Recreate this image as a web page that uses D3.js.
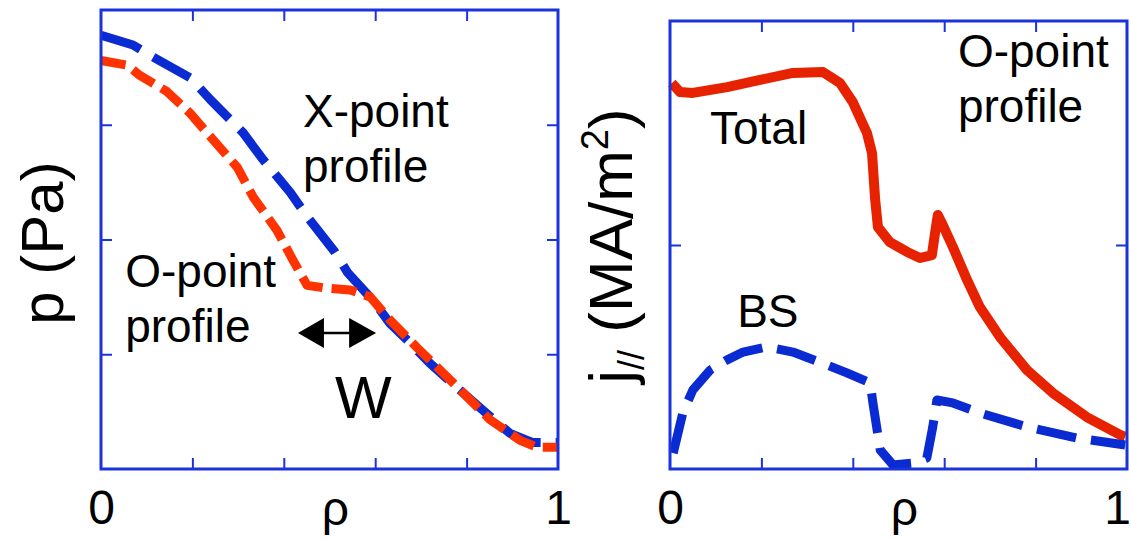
<!DOCTYPE html>
<html>
<head>
<meta charset="utf-8">
<script src="https://cdn.jsdelivr.net/npm/d3@7"></script>
<style>
  body { margin: 0; background: #fff; }
  text { font-family: "Liberation Sans", Arial, Helvetica, sans-serif; fill: #000; }
</style>
</head>
<body>
<div id="chart"></div>
<script>
// ---- data ----
// left panel: pressure profiles (arb. units, ticks at 1,2,3)
const rhoX = [0, 0.07, 0.114, 0.195, 0.239, 0.311, 0.352, 0.414, 0.451, 0.512, 0.54, 0.595, 0.632, 0.676, 0.72, 0.779, 0.836, 0.895, 0.945, 1.0];
const pX   = [3.78, 3.695, 3.59, 3.41, 3.22, 2.93, 2.71, 2.41, 2.2, 1.89, 1.71, 1.47, 1.27, 1.1, 0.92, 0.71, 0.51, 0.31, 0.23, 0.23];
const rhoO = [0, 0.057, 0.085, 0.144, 0.195, 0.245, 0.298, 0.333, 0.385, 0.42, 0.451, 0.486, 0.545, 0.589, 0.632, 0.691, 0.735, 0.801, 0.851, 0.917, 0.954, 1.0];
const pO   = [3.56, 3.52, 3.43, 3.29, 3.1, 2.87, 2.63, 2.37, 2.08, 1.82, 1.6, 1.58, 1.56, 1.5, 1.3, 1.06, 0.89, 0.63, 0.43, 0.25, 0.19, 0.19];

// right panel: parallel current density, O-point profile (MA/m^2)
const rhoTot = [0.004, 0.022, 0.05, 0.125, 0.197, 0.269, 0.335, 0.372, 0.4, 0.431, 0.442, 0.449, 0.455, 0.481, 0.519, 0.547, 0.573, 0.58, 0.586, 0.597, 0.619, 0.65, 0.678, 0.722, 0.781, 0.838, 0.912, 0.985, 0.996];
const jTot   = [1.723, 1.683, 1.679, 1.705, 1.737, 1.768, 1.772, 1.723, 1.638, 1.5, 1.411, 1.201, 1.08, 1.013, 0.969, 0.942, 0.955, 1.054, 1.134, 1.089, 0.991, 0.844, 0.723, 0.589, 0.442, 0.339, 0.232, 0.152, 0.143];
const rhoBS = [0.007, 0.028, 0.05, 0.088, 0.125, 0.16, 0.212, 0.269, 0.344, 0.387, 0.438, 0.444, 0.46, 0.488, 0.532, 0.562, 0.575, 0.584, 0.619, 0.678, 0.781, 0.891, 0.996];
const jBS   = [0.071, 0.25, 0.353, 0.442, 0.487, 0.522, 0.545, 0.522, 0.464, 0.429, 0.384, 0.295, 0.085, 0.018, 0.027, 0.049, 0.188, 0.308, 0.295, 0.25, 0.188, 0.138, 0.107];

const xTicks = [0.2, 0.4, 0.6, 0.8];
const xLabels = [0, 1];
const pTicks = [1, 2, 3];
const jTicks = [1];

//size
const width = 1131;
const height = 541;
const frameColor = "#1a33dd";
const blue = "#0a2ad2";

const svg = d3.select("#chart")
  .append("svg")
  .attr("width", width)
  .attr("height", height);

function panel(opt) {
  const x = d3.scaleLinear().domain([0, 1]).range([opt.left, opt.right]);
  const y = d3.scaleLinear().domain(opt.yDomain).range([opt.bottom, opt.top]);
  const g = svg.append("g");

  // inward ticks on all four sides
  const tick = 11;
  g.append("g").attr("transform", `translate(0,${opt.bottom})`)
    .call(d3.axisBottom(x).tickValues(xTicks).tickSize(-tick).tickFormat(""));
  g.append("g").attr("transform", `translate(0,${opt.top})`)
    .call(d3.axisTop(x).tickValues(xTicks).tickSize(-tick).tickFormat(""));
  g.append("g").attr("transform", `translate(${opt.left},0)`)
    .call(d3.axisLeft(y).tickValues(opt.yTicks).tickSize(-tick).tickFormat(""));
  g.append("g").attr("transform", `translate(${opt.right},0)`)
    .call(d3.axisRight(y).tickValues(opt.yTicks).tickSize(-tick).tickFormat(""));
  g.selectAll(".domain").remove();
  g.selectAll(".tick line").attr("stroke", frameColor).attr("stroke-width", 2);

  // tick labels 0 / 1 and rho
  g.append("g").attr("transform", `translate(0,${opt.bottom})`)
    .call(d3.axisBottom(x).tickValues(xLabels).tickSize(0).tickPadding(21).tickFormat(d3.format("d")))
    .call((a) => {
      a.select(".domain").remove();
      a.selectAll("text").attr("font-size", 48).attr("fill", "#000")
        .attr("font-family", "Liberation Sans, Arial, sans-serif");
      // keep the last label inside the page
      a.selectAll(".tick").filter((d) => d === 1).select("text").attr("dx", opt.lastShift || 0);
    });
  g.append("text")
    .attr("x", x(0.5) + 6)
    .attr("y", 525)
    .attr("text-anchor", "middle")
    .attr("font-size", 48)
    .text("ρ");

  return { g, x, y };
}

const L = panel({ left: 101, right: 558, top: 10, bottom: 469, yDomain: [0, 4], yTicks: pTicks });
const R = panel({ left: 670, right: 1127, top: 21, bottom: 469, yDomain: [0, 2], yTicks: jTicks, lastShift: -10 });

// lines
function drawLine(P, xs, ys, color, w, dash) {
  const line = d3.line().x((d, i) => P.x(xs[i])).y((d) => P.y(d));
  P.g.append("path")
    .datum(ys)
    .attr("fill", "none")
    .attr("stroke", color)
    .attr("stroke-width", w)
    .attr("stroke-linejoin", "round")
    .attr("stroke-dasharray", dash)
    .attr("d", line);
}

drawLine(L, rhoX, pX, blue, 9, "42,15");
drawLine(L, rhoO, pO, "#ff3300", 9, "25,9");
drawLine(R, rhoTot, jTot, "#e62200", 10, null);
drawLine(R, rhoBS, jBS, blue, 9, "40,15");

// frames
[[101, 10, 558, 469], [670, 21, 1127, 469]].forEach((f) => {
  svg.append("rect")
    .attr("x", f[0]).attr("y", f[1])
    .attr("width", f[2] - f[0]).attr("height", f[3] - f[1])
    .attr("fill", "none").attr("stroke", frameColor).attr("stroke-width", 3);
});

// annotations
function label(P, rx, v, str, size) {
  P.g.append("text")
    .attr("x", P.x(rx)).attr("y", P.y(v))
    .attr("font-size", size || 46)
    .text(str);
}
label(L, 0.442, 2.98, "X-point");
label(L, 0.442, 2.5, "profile");
label(L, 0.053, 1.586, "O-point");
label(L, 0.053, 1.107, "profile");
label(L, 0.512, 0.444, "W", 60);
label(R, 0.0875, 1.451, "Total");
label(R, 0.63, 1.795, "O-point");
label(R, 0.63, 1.549, "profile");
label(R, 0.147, 0.634, "BS");

// double arrow showing island width W
const aL = L.x(0.431), aR = L.x(0.602), aY = L.y(1.185);
L.g.append("line")
  .attr("x1", aL + 20).attr("x2", aR - 20)
  .attr("y1", aY).attr("y2", aY)
  .attr("stroke", "#000").attr("stroke-width", 2.5);
L.g.append("path")
  .attr("d", `M${aL},${aY}L${aL + 26},${aY - 15}L${aL + 26},${aY + 15}Z`)
  .attr("fill", "#000");
L.g.append("path")
  .attr("d", `M${aR},${aY}L${aR - 27},${aY - 15}L${aR - 27},${aY + 15}Z`)
  .attr("fill", "#000");

// y axis titles
svg.append("text")
  .attr("transform", "translate(63,243) rotate(-90)")
  .attr("text-anchor", "middle")
  .attr("font-size", 60)
  .text("p (Pa)");

const jt = svg.append("text")
  .attr("transform", "translate(632,246) rotate(-90)")
  .attr("text-anchor", "middle")
  .attr("font-size", 62);
jt.append("tspan").text("j");
jt.append("tspan").attr("font-size", 36).attr("dy", 12).text("//");
jt.append("tspan").attr("dy", -12).text(" (MA/m");
jt.append("tspan").attr("font-size", 38).attr("dy", -24).text("2");
jt.append("tspan").attr("dy", 24).text(")");
</script>
</body>
</html>
